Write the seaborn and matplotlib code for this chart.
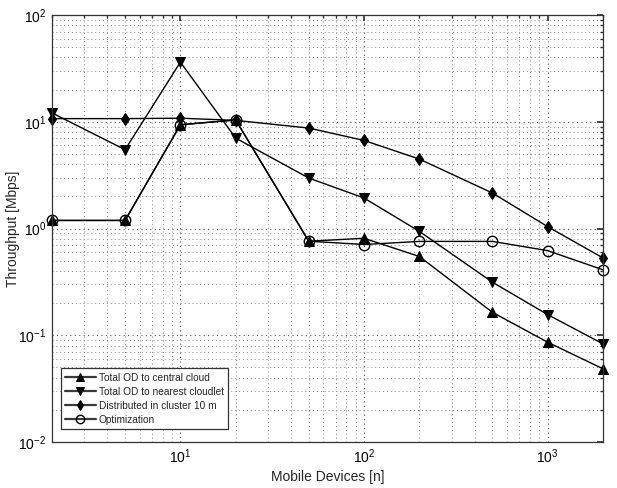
import numpy as np
import pandas as pd
import matplotlib
matplotlib.use("Agg")
import matplotlib.pyplot as plt
import seaborn as sns
from matplotlib.ticker import LogLocator, NullFormatter

devices = [2, 5, 10, 20, 50, 100, 200, 500, 1000, 2000]
central_cloud = [1.19, 1.19, 9.37, 10.4, 0.76, 0.81, 0.547, 0.164, 0.086, 0.0485]
nearest_cloudlet = [12.1, 5.47, 36.2, 7.03, 2.97, 1.93, 0.94, 0.314, 0.156, 0.083]
distributed = [10.7, 10.7, 10.8, 10.3, 8.73, 6.68, 4.47, 2.15, 1.04, 0.53]
optimization = [1.19, 1.19, 9.37, 10.4, 0.76, 0.708, 0.757, 0.757, 0.62, 0.41]

labels = ["Total OD to central cloud", "Total OD to nearest cloudlet",
          "Distributed in cluster 10 m", "Optimization"]

sns.set_theme(style="white")
plt.rcParams['font.family'] = ['Liberation Sans', 'DejaVu Sans']

fig = plt.figure(figsize=(6.17, 4.88), dpi=100)
ax = fig.add_axes([52/617, 46/488, 551/617, 427/488])

series = [
    (central_cloud, dict(marker='^', markersize=6.5, markerfacecolor='black', markeredgecolor='black')),
    (nearest_cloudlet, dict(marker='v', markersize=6.5, markerfacecolor='black', markeredgecolor='black')),
    (distributed, dict(marker='d', markersize=6.5, markerfacecolor='black', markeredgecolor='black')),
    (optimization, dict(marker='o', markersize=7.5, markerfacecolor='none', markeredgecolor='black', markeredgewidth=1.0)),
]
for (vals, mk), lab in zip(series, labels):
    df = pd.DataFrame({"x": devices, "y": vals})
    sns.lineplot(data=df, x="x", y="y", ax=ax, color='black', linewidth=1.0,
                 label=lab, clip_on=False, zorder=3, **mk)

ax.set_xscale('log')
ax.set_yscale('log')
ax.set_xlim(2, 2000)
ax.set_ylim(1e-2, 1e2)

ax.xaxis.set_major_locator(LogLocator(base=10, numticks=10))
ax.xaxis.set_minor_locator(LogLocator(base=10, subs=np.arange(2, 10), numticks=20))
ax.xaxis.set_minor_formatter(NullFormatter())
ax.yaxis.set_major_locator(LogLocator(base=10, numticks=10))
ax.yaxis.set_minor_locator(LogLocator(base=10, subs=np.arange(2, 10), numticks=20))
ax.yaxis.set_minor_formatter(NullFormatter())

ax.grid(True, which='major', linestyle=(0, (1, 3)), color='#555555', linewidth=0.8)
ax.grid(True, which='minor', linestyle=(0, (1, 3)), color='#888888', linewidth=0.7)
ax.set_axisbelow(True)
ax.tick_params(which='both', direction='in', top=True, right=True, colors='#333333',
               labelcolor='black', labelsize=10)
ax.tick_params(which='major', length=4, pad=4)
ax.tick_params(which='minor', length=2)
for s in ax.spines.values():
    s.set_color('#333333')
    s.set_linewidth(0.9)
    s.set_zorder(4)

ax.set_xlabel("Mobile Devices [n]", fontsize=10, labelpad=3)
ax.set_ylabel("Throughput [Mbps]", fontsize=10)
ax.yaxis.set_label_coords(-0.058, 0.5)

leg = ax.legend(loc='lower left', fontsize=7.3, frameon=True, fancybox=False,
                edgecolor='#333333', framealpha=1, borderpad=0.45, labelspacing=0.4,
                handlelength=3.0, handletextpad=0.3, borderaxespad=0,
                markerscale=0.8, bbox_to_anchor=(0.0158, 0.0297))
leg.get_frame().set_linewidth(0.9)
leg.set_zorder(5)
for h in leg.get_lines():
    h.set_color('#3a3a3a')
    h.set_linewidth(1.6)

fig.savefig("out.png", dpi=100)
